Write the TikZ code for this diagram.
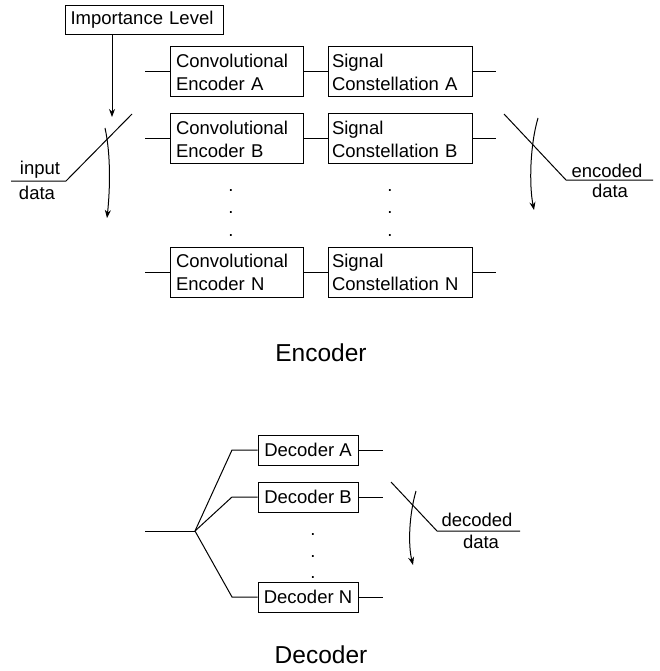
\documentclass[tikz,border=0pt]{standalone}
\usepackage{fontspec}
\setmainfont{Liberation Sans}
\usetikzlibrary{arrows.meta}
\begin{document}
\begin{tikzpicture}[x=1pt,y=-1pt,
  every node/.style={font=\fontsize{18.5}{23}\selectfont},
  ln/.style={line width=1pt},
  arr/.style={line width=1pt,-{Stealth[length=8pt,width=6pt]}},
  convbox/.style={draw,line width=1pt,minimum width=133pt,minimum height=50pt,text width=121pt,align=left,inner xsep=6pt,inner ysep=0pt},
  sigbox/.style={draw,line width=1pt,minimum width=144pt,minimum height=50pt,text width=136pt,align=left,inner xsep=4pt,inner ysep=0pt},
  decbox/.style={draw,line width=1pt,minimum width=100pt,minimum height=30pt,inner sep=0pt},
  lbl/.style={anchor=base,inner sep=0pt},
  dotn/.style={anchor=base,inner sep=0pt},
  title/.style={anchor=base,inner sep=0pt,font=\fontsize{24.5}{28}\selectfont}]
\useasboundingbox (0,0) rectangle (660,671);

% Importance level
\node[draw,line width=1pt,anchor=north west,minimum width=158pt,minimum height=29pt,inner xsep=5pt,inner ysep=0pt,text width=148pt,align=left] (imp) at (65,5) {Importance Level};
\coordinate (imptip) at (112,117);
\draw[arr] (imp.south -| imptip) -- (imptip);

% Encoder boxes
\node[convbox] (convA) at (236.5,72) {Convolutional\\Encoder A};
\node[convbox] (convB) at (236.5,139) {Convolutional\\Encoder B};
\node[convbox] (convN) at (236.5,272) {Convolutional\\Encoder N};
\node[sigbox] (sigA) at (400,72) {Signal\\Constellation A};
\node[sigbox] (sigB) at (400,139) {Signal\\Constellation B};
\node[sigbox] (sigN) at (400,272) {Signal\\Constellation N};

\coordinate (inA) at (145,72);
\coordinate (inB) at (145,139);
\coordinate (inN) at (145,272);
\coordinate (outA) at (496,72);
\coordinate (outB) at (496,139);
\coordinate (outN) at (496,272);
\draw[ln] (inA) -- (convA.west);
\draw[ln] (inB) -- (convB.west);
\draw[ln] (inN) -- (convN.west);
\draw[ln] (convA.east) -- (sigA.west);
\draw[ln] (convB.east) -- (sigB.west);
\draw[ln] (convN.east) -- (sigN.west);
\draw[ln] (sigA.east) -- (outA);
\draw[ln] (sigB.east) -- (outB);
\draw[ln] (sigN.east) -- (outN);

% dots
\node[dotn] (cd1) at (231,191) {.};
\node[dotn] (cd2) at (231,213) {.};
\node[dotn] (cd3) at (231,236) {.};
\node[dotn] (sd1) at (390,191) {.};
\node[dotn] (sd2) at (390,213) {.};
\node[dotn] (sd3) at (390,236) {.};

% input switch
\coordinate (inS) at (11,181);
\coordinate (inK) at (66,181);
\coordinate (inE) at (132,114);
\draw[ln] (inS) -- (inK) -- (inE);
\node[lbl] (inputlbl) at (40,175) {input};
\node[lbl] (inputdata) at (37,199) {data};
\coordinate (ica) at (105,128);
\coordinate (icb) at (107,218);
\draw[arr] (ica) .. controls (111,155) and (110,190) .. (icb);

% output switch
\coordinate (oS) at (504,114);
\coordinate (oK) at (566,180);
\coordinate (oE) at (653,180);
\draw[ln] (oS) -- (oK) -- (oE);
\node[lbl] (enclbl) at (607,177) {encoded};
\node[lbl] (encdata) at (610,197) {data};
\coordinate (oca) at (538,118);
\coordinate (ocb) at (534,210);
\draw[arr] (oca) .. controls (530,145) and (529,185) .. (ocb);

\node[title] (enct) at (321,361) {Encoder};

% Decoder
\node[decbox] (decA) at (308,450) {Decoder A};
\node[decbox] (decB) at (308,497) {Decoder B};
\node[decbox] (decN) at (308,597) {Decoder N};
\coordinate (din) at (145,531);
\coordinate (fork) at (195,531);
\coordinate (kA) at (232,450);
\coordinate (kB) at (232,497);
\coordinate (kN) at (232,597);
\draw[ln] (din) -- (fork);
\draw[ln] (fork) -- (kA) -- (decA.west);
\draw[ln] (fork) -- (kB) -- (decB.west);
\draw[ln] (fork) -- (kN) -- (decN.west);
\coordinate (doA) at (383,450);
\coordinate (doB) at (383,497);
\coordinate (doN) at (383,597);
\draw[ln] (decA.east) -- (doA);
\draw[ln] (decB.east) -- (doB);
\draw[ln] (decN.east) -- (doN);

\node[dotn] (dd1) at (313,535) {.};
\node[dotn] (dd2) at (313,557) {.};
\node[dotn] (dd3) at (313,578) {.};

\coordinate (dS) at (391,482);
\coordinate (dK) at (437,531);
\coordinate (dE) at (520,531);
\draw[ln] (dS) -- (dK) -- (dE);
\node[lbl] (declbl) at (477,526) {decoded};
\node[lbl] (decdata) at (481,548) {data};
\coordinate (dca) at (416,491);
\coordinate (dcb) at (413,565);
\draw[arr] (dca) .. controls (409,515) and (408,545) .. (dcb);

\node[title] (dect) at (321,663) {Decoder};
\end{tikzpicture}
\end{document}
